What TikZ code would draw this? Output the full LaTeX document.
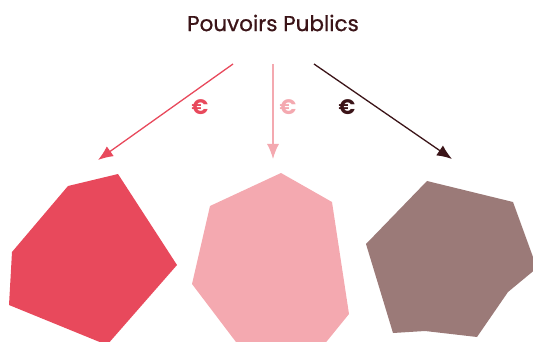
\documentclass[tikz,border=0pt]{standalone}
\usepackage{fontspec}
\setmainfont{Poppins}
\newfontfamily\ppfont{Poppins}[FakeBold=0.8]
\usetikzlibrary{arrows.meta}

\definecolor{ppdark}{HTML}{3B1418}
\definecolor{ppred}{HTML}{E8495C}
\definecolor{pppink}{HTML}{F4A9B0}
\definecolor{ppbrown}{HTML}{9B7A78}

\begin{document}
\begin{tikzpicture}[x=1pt,y=-1pt,>={Latex[length=15pt,width=12pt]},
    flow/.style={->,line width=1.3pt},
    euro/.style={font=\bfseries\fontsize{21}{24}\selectfont}]
  \useasboundingbox (0,0) rectangle (533,342);

  \node[text=ppdark,font=\ppfont\fontsize{21.5}{25}\selectfont] (pp) at (273,23) {Pouvoirs Publics};

  % money flows
  \coordinate (redstart) at (233,64);
  \coordinate (redend) at (98,160);
  \coordinate (pinkstart) at (273,64);
  \coordinate (pinkend) at (273,159);
  \coordinate (brownstart) at (314,64);
  \coordinate (brownend) at (452,159);
  \draw[flow,ppred] (redstart) -- (redend);
  \draw[flow,pppink] (pinkstart) -- (pinkend);
  \draw[flow,ppdark] (brownstart) -- (brownend);
  \node[euro,text=ppred] (eurored) at (200,107) {€};
  \node[euro,text=pppink] (europink) at (288,107) {€};
  \node[euro,text=ppdark] (eurobrown) at (347,107) {€};

  % recipients
  \begin{scope}
    \clip (0,0) rectangle (533,342);
    \fill[ppred] (118,174) -- (68,186) -- (12,252) -- (9,305) -- (107,345)
      -- (177,265) -- cycle;
    \fill[pppink] (281,173) -- (332,202) -- (349,314) -- (323,346)
      -- (239,346) -- (192,284) -- (210,206) -- cycle;
    \fill[ppbrown] (427,181) -- (513,202) -- (537,268) -- (508,292)
      -- (477,337) -- (425,331) -- (393,333) -- (366,244) -- cycle;
  \end{scope}
\end{tikzpicture}
\end{document}
